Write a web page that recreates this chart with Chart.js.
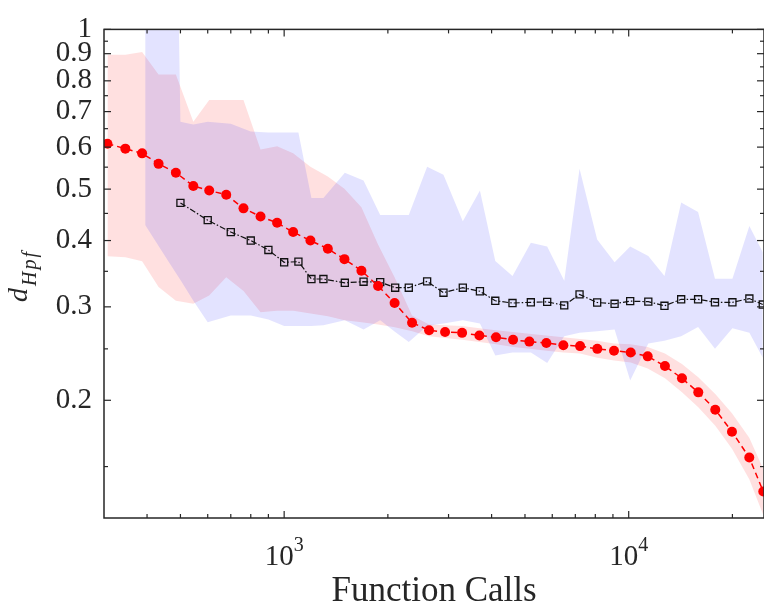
<!DOCTYPE html>
<html>
<head>
<meta charset="utf-8">
<script src="https://cdn.jsdelivr.net/npm/chart.js@4/dist/chart.umd.min.js"></script>
<style>
html,body{margin:0;padding:0;background:#fff;}
#wrap{width:764px;height:611px;position:relative;}
</style>
</head>
<body>
<div id="wrap"><canvas id="c" width="764" height="611"></canvas></div>
<script>
// ---- data ----
const redX = [307,346,387,432,485,545,606,679,762,854,954,1062,1192,1339,1496,1676,1873,2092,2351,2634,2931,3284,3687,4121,4617,5148,5768,6462,7225,8108,9065,10134,11353,12742,14276,15920,17835,19940,22385,24580];
const redY = [0.609,0.596,0.584,0.558,0.537,0.507,0.497,0.488,0.460,0.444,0.432,0.415,0.400,0.386,0.369,0.351,0.3285,0.305,0.280,0.271,0.269,0.268,0.265,0.263,0.260,0.258,0.2565,0.254,0.253,0.250,0.248,0.246,0.242,0.232,0.220,0.207,0.192,0.1745,0.156,0.1346];
const redUpper = [0.896,0.896,0.907,0.8225,0.8225,0.670,0.736,0.736,0.736,0.594,0.602,0.584,0.551,0.528,0.501,0.462,0.393,0.341,0.289,0.278,0.277,0.276,0.2735,0.271,0.269,0.267,0.265,0.263,0.261,0.259,0.256,0.255,0.252,0.245,0.234,0.221,0.2055,0.189,0.170,0.1485];
const redLower = [0.3735,0.372,0.3656,0.327,0.308,0.304,0.315,0.341,0.3215,0.293,0.295,0.295,0.2916,0.288,0.283,0.2805,0.278,0.2747,0.270,0.264,0.262,0.260,0.2575,0.255,0.252,0.250,0.248,0.246,0.245,0.2405,0.2376,0.2356,0.2296,0.220,0.207,0.194,0.179,0.162,0.142,0.1216];

const blackX = [500,600,700,800,900,1000,1100,1200,1300,1500,1700,1900,2100,2300,2600,2900,3300,3700,4100,4600,5200,5800,6500,7200,8100,9100,10100,11400,12700,14200,15900,17800,20000,22400,24500];
const blackY = [0.471,0.437,0.415,0.400,0.384,0.364,0.365,0.3385,0.3385,0.333,0.3346,0.334,0.326,0.326,0.335,0.319,0.326,0.321,0.308,0.305,0.306,0.3065,0.302,0.3166,0.3057,0.304,0.3075,0.3068,0.3014,0.310,0.310,0.306,0.306,0.311,0.303];

const blueX = [395,467,500,545,600,700,800,900,1000,1100,1200,1300,1500,1700,1900,2100,2300,2600,2900,3300,3700,4100,4600,5200,5800,6500,7200,8100,9100,10100,11400,12700,14200,15900,17800,20000,22400,24500];
const blueUpper = [3,10,0.670,0.662,0.670,0.664,0.642,0.639,0.639,0.639,0.481,0.481,0.537,0.519,0.447,0.447,0.447,0.551,0.532,0.435,0.497,0.366,0.343,0.396,0.390,0.336,0.546,0.402,0.364,0.390,0.374,0.343,0.472,0.453,0.339,0.339,0.426,0.380];
const blueLower = [0.428,0.361,0.337,0.308,0.2805,0.289,0.289,0.284,0.276,0.276,0.276,0.277,0.283,0.272,0.283,0.269,0.2575,0.276,0.279,0.283,0.279,0.243,0.246,0.246,0.235,0.264,0.268,0.270,0.272,0.218,0.256,0.259,0.264,0.275,0.250,0.2735,0.268,0.2405];

const xMajorTicks = [1000,10000];
const xMajorLabels = [['10','3'],['10','4']];
const xMinorTicks = [400,500,600,700,800,900,2000,3000,4000,5000,6000,7000,8000,9000,20000];
const yMajorTicks = [0.2,0.3,0.4,0.5,0.6,0.7,0.8,0.9,1];
const yTickLabels = ['0.2','0.3','0.4','0.5','0.6','0.7','0.8','0.9','1'];
const yMinorTicks = [0.15,0.25,0.35,0.45,0.55,0.65,0.75,0.85,0.95];
const xTitle = 'Function Calls';
const yTitleMain = 'd';
const yTitleSub = 'Hpf';

// ---- helpers ----
const pts = (xs, ys) => xs.map((x, i) => ({x: x, y: ys[i]}));
const AX = '#262626';
const SERIF = "'Liberation Serif', 'Times New Roman', serif";

const framePlugin = {
  id: 'frame',
  afterDatasetsDraw(chart) {
    const ctx = chart.ctx, a = chart.chartArea, xs = chart.scales.x, ys = chart.scales.y;
    ctx.save();
    ctx.strokeStyle = AX;
    ctx.lineWidth = 1.5;
    ctx.strokeRect(a.left, a.top, a.right - a.left, a.bottom - a.top);
    ctx.lineWidth = 1.2;
    const seg = (x1, y1, x2, y2) => { ctx.beginPath(); ctx.moveTo(x1, y1); ctx.lineTo(x2, y2); ctx.stroke(); };
    const xt = (vals, len) => vals.forEach(v => { const p = xs.getPixelForValue(v); seg(p, a.bottom, p, a.bottom - len); seg(p, a.top, p, a.top + len); });
    const yt = (vals, len) => vals.forEach(v => { const p = ys.getPixelForValue(v); seg(a.left, p, a.left + len, p); seg(a.right, p, a.right - len, p); });
    xt(xMajorTicks, 7); xt(xMinorTicks, 4);
    yt(yMajorTicks, 7); yt(yMinorTicks, 4);

    // x tick labels with superscript exponent
    ctx.fillStyle = AX;
    ctx.textAlign = 'left';
    ctx.textBaseline = 'alphabetic';
    xMajorTicks.forEach((v, i) => {
      const p = xs.getPixelForValue(v);
      const base = xMajorLabels[i][0], exp = xMajorLabels[i][1];
      ctx.font = '29px ' + SERIF; const wb = ctx.measureText(base).width;
      ctx.font = '20px ' + SERIF; const we = ctx.measureText(exp).width;
      const s = p - (wb + we) / 2;
      ctx.font = '29px ' + SERIF; ctx.fillText(base, s, 565);
      ctx.font = '20px ' + SERIF; ctx.fillText(exp, s + wb, 551);
    });

    // x title
    ctx.textAlign = 'center';
    ctx.font = '35px ' + SERIF;
    ctx.fillText(xTitle, (a.left + a.right) / 2, 601);

    // y title (rotated), d with subscript Hpf
    ctx.translate(27, 302);
    ctx.rotate(-Math.PI / 2);
    ctx.textAlign = 'left';
    ctx.font = 'italic 28px ' + SERIF;
    ctx.fillText(yTitleMain, 0, 0);
    const wd = ctx.measureText(yTitleMain).width;
    ctx.font = 'italic 20px ' + SERIF;
    if ('letterSpacing' in ctx) ctx.letterSpacing = '2px';
    ctx.fillText(yTitleSub, wd + 2, 9);
    ctx.restore();
  }
};

new Chart(document.getElementById('c'), {
  type: 'line',
  data: {
    datasets: [
      { label: 'red', data: pts(redX, redY), borderColor: '#ff0000', borderWidth: 1.5, borderDash: [6, 4],
        pointRadius: 5, pointBackgroundColor: '#f00', pointBorderColor: '#f00', pointBorderWidth: 0, fill: false, tension: 0 },
      { label: 'black', data: pts(blackX, blackY), borderColor: '#111', borderWidth: 1.2, borderDash: [6, 2, 1.5, 2],
        pointStyle: 'rect', pointRadius: 5, pointBackgroundColor: 'rgba(0,0,0,0)', pointBorderColor: '#111', pointBorderWidth: 1.3, fill: false, tension: 0 },
      { label: 'blueUp', data: pts(blueX, blueUpper), borderWidth: 0, borderColor: 'rgba(0,0,0,0)', pointRadius: 0,
        backgroundColor: 'rgba(0,0,255,0.11)', fill: '+1', tension: 0 },
      { label: 'blueLo', data: pts(blueX, blueLower), borderWidth: 0, borderColor: 'rgba(0,0,0,0)', pointRadius: 0, fill: false, tension: 0 },
      { label: 'redUp', data: pts(redX, redUpper), borderWidth: 0, borderColor: 'rgba(0,0,0,0)', pointRadius: 0,
        backgroundColor: 'rgba(255,0,0,0.12)', fill: '+1', tension: 0 },
      { label: 'redLo', data: pts(redX, redLower), borderWidth: 0, borderColor: 'rgba(0,0,0,0)', pointRadius: 0, fill: false, tension: 0 }
    ]
  },
  options: {
    responsive: false,
    animation: false,
    devicePixelRatio: 1,
    layout: { autoPadding: false, padding: { top: 20, right: 0, left: 0, bottom: 0 } },
    plugins: { legend: { display: false }, tooltip: { enabled: false } },
    scales: {
      x: {
        type: 'logarithmic', min: 300, max: 24700,
        grid: { display: false }, border: { display: false },
        ticks: { display: false },
        afterFit: s => { s.height = 93; }
      },
      y: {
        type: 'logarithmic', min: 0.12, max: 1,
        grid: { display: false, drawTicks: false }, border: { display: false },
        afterBuildTicks: s => { s.ticks = yMajorTicks.map(v => ({ value: v })); },
        ticks: {
          autoSkip: false, padding: 12, color: AX,
          font: { family: "'Liberation Serif'", size: 29 },
          callback: (v, i) => yTickLabels[i]
        },
        afterFit: s => { s.width = 104; }
      }
    }
  },
  plugins: [framePlugin]
});
</script>
</body>
</html>
